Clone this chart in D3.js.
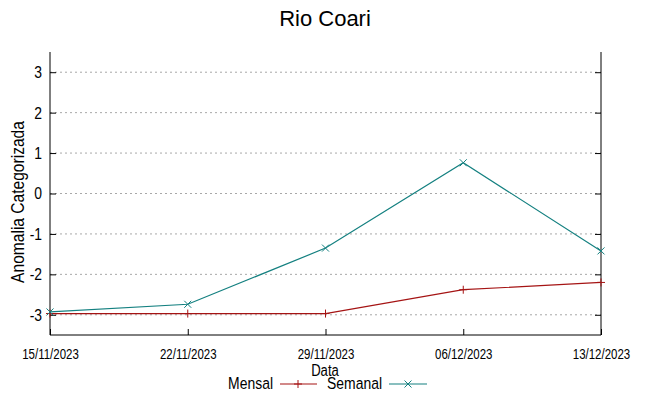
<!DOCTYPE html>
<html><head><meta charset="utf-8">
<script src="https://cdn.jsdelivr.net/npm/d3@7"></script>
<style>body{margin:0;background:#fff;font-family:"Liberation Sans",Arial,sans-serif;}</style>
</head><body><svg id="c" width="649" height="396"></svg>
<script>
const dates = ["15/11/2023","22/11/2023","29/11/2023","06/12/2023","13/12/2023"];
const mensal = [-2.97,-2.97,-2.97,-2.38,-2.2];
const semanal = [-2.93,-2.74,-1.35,0.76,-1.42];
const yTicks = [-3,-2,-1,0,1,2,3];

const svg = d3.select("#c");
const FF = "'Liberation Sans', Arial, sans-serif";
const SX = 0.82;
const L=50,R=601,T=52,B=335;
const parse = d3.timeParse("%d/%m/%Y");
const x = d3.scaleTime().domain([parse(dates[0]),parse(dates[dates.length-1])]).range([L,R]);
const y = d3.scaleLinear().domain([-3.5,3.5]).range([B,T]);

// grid
svg.append("g").selectAll("line").data(yTicks).join("line")
  .attr("x1",L).attr("x2",R).attr("y1",d=>y(d)).attr("y2",d=>y(d))
  .attr("stroke","#a8a8a8").attr("stroke-width",1).attr("stroke-dasharray","2,3");

// axes
const ya = svg.append("g").attr("transform",`translate(${L},0)`)
  .call(d3.axisLeft(y).tickValues(yTicks).tickSize(-6).tickPadding(8).tickFormat(d=>String(d)));
ya.select(".domain").remove();
ya.selectAll("text").attr("font-size",17).attr("font-family",FF).attr("fill","#000")
  .attr("x",-8/SX).attr("transform",`scale(${SX},1)`);
const yr = svg.append("g").attr("transform",`translate(${R},0)`)
  .call(d3.axisRight(y).tickValues(yTicks).tickSize(-6).tickFormat(""));
yr.select(".domain").remove();
const xa = svg.append("g").attr("transform",`translate(0,${B})`)
  .call(d3.axisBottom(x).tickValues(dates.map(parse)).tickSize(-6).tickPadding(14).tickFormat(d3.timeFormat("%d/%m/%Y")));
xa.select(".domain").remove();
xa.selectAll("text").attr("font-size",14).attr("font-family",FF).attr("fill","#000")
  .attr("transform",`scale(${SX},1)`);
svg.selectAll(".tick line").attr("stroke","#000");

// border (left, bottom, right)
svg.append("path").attr("d",`M${L},${T}V${B}H${R}V${T}`).attr("fill","none").attr("stroke","#000").attr("stroke-width",1);

const cM="#a51414", cS="#148080";
const line = d3.line().x((d,i)=>x(parse(dates[i]))).y(d=>y(d));
svg.append("path").datum(mensal).attr("d",line).attr("fill","none").attr("stroke",cM).attr("stroke-width",1.2);
svg.append("path").datum(semanal).attr("d",line).attr("fill","none").attr("stroke",cS).attr("stroke-width",1.2);

function plus(g,cx,cy,c){g.append("path").attr("d",`M${cx-4},${cy}H${cx+4}M${cx},${cy-4}V${cy+4}`).attr("stroke",c).attr("stroke-width",1);}
function cross(g,cx,cy,c){g.append("path").attr("d",`M${cx-3.5},${cy-3.5}L${cx+3.5},${cy+3.5}M${cx-3.5},${cy+3.5}L${cx+3.5},${cy-3.5}`).attr("stroke",c).attr("stroke-width",1);}
mensal.forEach((v,i)=>plus(svg,x(parse(dates[i])),y(v),cM));
semanal.forEach((v,i)=>cross(svg,x(parse(dates[i])),y(v),cS));

function txt(tr,str,size,anchor){
  svg.append("text").attr("transform",tr+` scale(${SX},1)`).attr("text-anchor",anchor)
    .attr("font-size",size).attr("font-family",FF).attr("fill","#000").text(str);
}
// title & labels
svg.append("text").attr("x",325).attr("y",26).attr("text-anchor","middle").attr("font-size",22).attr("font-family",FF).text("Rio Coari");
txt("translate(24,202) rotate(-90)","Anomalia Categorizada",19,"middle");
txt("translate(325,376)","Data",16,"middle");

// legend
txt("translate(273,389)","Mensal",17,"end");
svg.append("line").attr("x1",280).attr("x2",317).attr("y1",384).attr("y2",384).attr("stroke",cM).attr("stroke-width",1.2);
plus(svg,298,384,cM);
txt("translate(382,389)","Semanal",17,"end");
svg.append("line").attr("x1",389).attr("x2",427).attr("y1",384).attr("y2",384).attr("stroke",cS).attr("stroke-width",1.2);
cross(svg,408,384,cS);
</script></body></html>
